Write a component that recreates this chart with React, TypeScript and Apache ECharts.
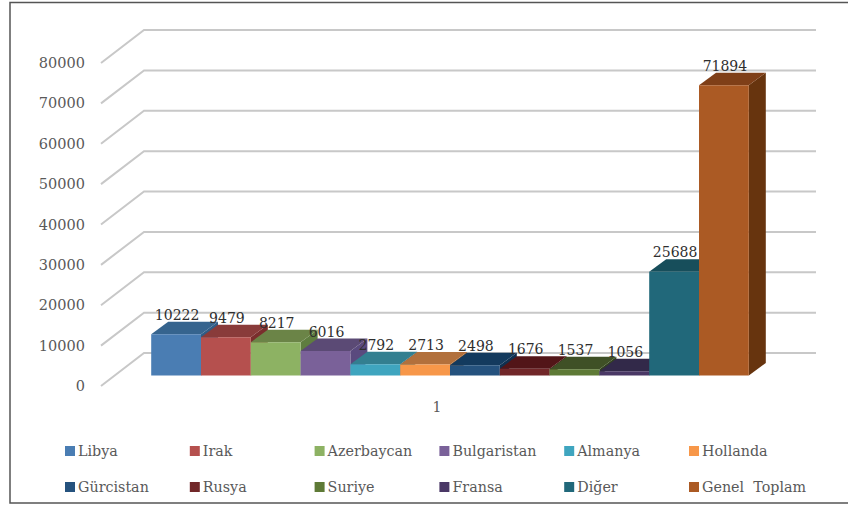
import React, { useEffect, useRef } from "react";
import * as echarts from "echarts";

const categories = ["1"];
const seriesNames = ["Libya", "Irak", "Azerbaycan", "Bulgaristan", "Almanya", "Hollanda", "Gürcistan", "Rusya", "Suriye", "Fransa", "Diğer", "Genel  Toplam"];
const seriesValues = [10222, 9479, 8217, 6016, 2792, 2713, 2498, 1676, 1537, 1056, 25688, 71894];
const yTicks = [0, 10000, 20000, 30000, 40000, 50000, 60000, 70000, 80000];
const frontColors = ["#4A7DB3", "#B5504E", "#8DB263", "#7A6199", "#3FA5BF", "#F79749", "#25527E", "#712729", "#5E7A36", "#4A3866", "#21687A", "#AB5A24"];
const topColors = ["#36648E", "#893B3A", "#6B8447", "#5B4A75", "#337F90", "#B2703C", "#133A5E", "#521518", "#3F5026", "#322949", "#174E5B", "#7F3F18"];
const sideColors = ["#2F5C86", "#7A2E2D", "#5F7D3F", "#5A4A7E", "#2B6F80", "#A0622F", "#0F3050", "#470F12", "#334320", "#2A2140", "#12434F", "#67340E"];

const FONT = "DejaVu Serif";
const BAR_W = 49.8;
const BAR_DX = 17;
const BAR_DY = 12.5;
const BAR_SHIFT_X = 13;
const BAR_SHIFT_Y = 10.6;
const WALL_DX = 43;
const WALL_DY = 33;
const WALL_RIGHT = 816;

export default function App() {
  const ref = useRef<HTMLDivElement>(null);
  useEffect(() => {
    document.body.style.margin = "0";
    const chart = echarts.init(ref.current!, null, { renderer: "svg" });

    const barSeries = seriesNames.map((name, i) => ({
      type: "custom",
      name,
      z: 3,
      itemStyle: { color: frontColors[i] },
      data: [[0, seriesValues[i]]],
      renderItem: (_p: any, api: any) => {
        const v = api.value(1);
        const base = api.coord([0, 0]);
        const top = api.coord([0, v]);
        const x0 = base[0] + BAR_SHIFT_X + (i - 6) * BAR_W;
        const x1 = x0 + BAR_W;
        const yb = base[1] - BAR_SHIFT_Y;
        const yt = top[1] - BAR_SHIFT_Y;
        return {
          type: "group",
          children: [
            { type: "polygon", shape: { points: [[x1, yb], [x1 + BAR_DX, yb - BAR_DY], [x1 + BAR_DX, yt - BAR_DY], [x1, yt]] }, style: { fill: sideColors[i] } },
            { type: "polygon", shape: { points: [[x0, yt], [x1, yt], [x1 + BAR_DX, yt - BAR_DY], [x0 + BAR_DX, yt - BAR_DY]] }, style: { fill: topColors[i] } },
            { type: "rect", shape: { x: x0, y: yt, width: BAR_W, height: yb - yt }, style: { fill: frontColors[i] } },
            {
              type: "text",
              z2: 100,
              x: x0 + BAR_W / 2 + 1,
              y: yt - 19.2,
              style: { text: String(v), fill: "#2E2E2E", font: `14px "${FONT}"`, align: "center", verticalAlign: "middle" },
            },
          ],
        };
      },
    }));

    const wallSeries = {
      type: "custom",
      name: "grid",
      z: 1,
      silent: true,
      data: yTicks.map((t) => [0, t]),
      renderItem: (_p: any, api: any) => {
        const p = api.coord([0, api.value(1)]);
        const left = api.coord([0, 0])[0] - 336;
        return {
          type: "polyline",
          shape: { points: [[left, p[1]], [left + WALL_DX, p[1] - WALL_DY], [WALL_RIGHT, p[1] - WALL_DY]] },
          style: { stroke: "#C8C8C8", lineWidth: 2, fill: "none" },
        };
      },
    };

    chart.setOption({
      animation: false,
      backgroundColor: "#ffffff",
      grid: { left: 101, top: 63, width: 672, height: 323 },
      xAxis: {
        type: "category",
        data: categories,
        axisLine: { show: false },
        axisTick: { show: false },
        splitLine: { show: false },
        axisLabel: { color: "#595959", fontFamily: FONT, fontSize: 14, margin: 14 },
      },
      yAxis: {
        type: "value",
        min: 0,
        max: 80000,
        interval: 10000,
        axisLine: { show: false },
        axisTick: { show: false },
        splitLine: { show: false },
        axisLabel: { color: "#595959", fontFamily: FONT, fontSize: 14.5, margin: 16, formatter: (v: number) => String(v) },
      },
      legend: seriesNames.map((name, i) => ({
        data: [name],
        left: 60 + (i % 6) * 124.8,
        top: i < 6 ? 439 : 475,
        icon: "rect",
        itemWidth: 10,
        itemHeight: 10,
        selectedMode: false,
        textStyle: { color: "#595959", fontFamily: FONT, fontSize: 14.3, padding: [0, 0, 0, -2] },
      })),
      graphic: [
        { type: "polyline", silent: true, shape: { points: [[848, 2.5], [10, 2.5], [10, 503], [848, 503]] }, style: { stroke: "#555555", lineWidth: 1.5, fill: "none" } },
      ],
      series: [wallSeries, ...barSeries],
    });
    return () => chart.dispose();
  }, []);
  return <div ref={ref} style={{ position: "fixed", left: 0, top: 0, width: 848, height: 508 }} />;
}
